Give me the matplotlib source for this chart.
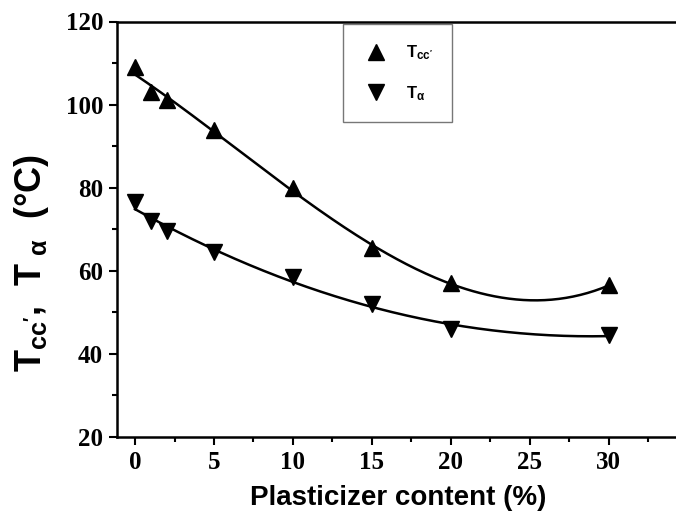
import numpy as np
import matplotlib
matplotlib.use('Agg')
import matplotlib.pyplot as plt
from matplotlib.ticker import MultipleLocator

plt.rcParams['mathtext.fontset'] = 'custom'
plt.rcParams['mathtext.rm'] = 'Liberation Sans:bold'
plt.rcParams['mathtext.bf'] = 'Liberation Sans:bold'
plt.rcParams['mathtext.it'] = 'Liberation Sans:bold'

# datos
content = [0, 1, 2, 5, 10, 15, 20, 30]
t_cc = [109, 103, 101, 94, 80, 65.5, 57, 56.5]
t_alpha = [76.5, 72, 69.5, 64.5, 58.5, 52, 46, 44.5]

fig = plt.figure(figsize=(6.76, 5.19), dpi=100)
ax = fig.add_axes([117 / 676, 82 / 519, 563 / 676, 415.5 / 519])

# curvas de ajuste polinomico
xs = np.linspace(0, 30, 200)
fit_cc = np.polyfit(content, t_cc, 3)
fit_a = np.polyfit(content, t_alpha, 2)
ax.plot(xs, np.polyval(fit_cc, xs), color='black', lw=1.8)
ax.plot(xs, np.polyval(fit_a, xs), color='black', lw=1.8)

ax.plot(content, t_cc, '^', color='black', ms=11, ls='none', label=r"$\mathbf{T_{cc'}}$")
ax.plot(content, t_alpha, 'v', color='black', ms=11, ls='none', label=r"$\mathbf{T_{\alpha}}$")

ax.set_xlim(-1.14, 34.5)
ax.set_ylim(20, 120)
ax.xaxis.set_major_locator(MultipleLocator(5))
ax.xaxis.set_minor_locator(MultipleLocator(2.5))
ax.yaxis.set_major_locator(MultipleLocator(20))
ax.yaxis.set_minor_locator(MultipleLocator(10))
ax.tick_params(which='major', direction='out', length=6, width=1.5, labelsize=18, pad=4)
ax.tick_params(which='minor', direction='out', length=3.5, width=1.5)
for lab in ax.get_xticklabels() + ax.get_yticklabels():
    lab.set_family('Liberation Serif')
    lab.set_fontweight('bold')
for s in ax.spines.values():
    s.set_linewidth(1.8)
ax.spines['right'].set_visible(False)

ax.set_xlabel('Plasticizer content (%)', fontsize=20, fontweight='bold',
              family='Liberation Sans', labelpad=8)
ax.set_ylabel(r"$\mathbf{T_{cc'}}$,  $\mathbf{T_{\ \alpha}}$  (°C)", fontsize=26,
              fontweight='bold', family='Liberation Sans')
ax.yaxis.set_label_coords(-0.118, 0.42)

leg = ax.legend(loc='upper left', bbox_to_anchor=((343 - 117) / 563, 1.0 - 3 / 415.5),
                borderaxespad=0, fontsize=12, frameon=True, fancybox=False, borderpad=1.15,
                labelspacing=1.3, handletextpad=1.0, handlelength=1.6, markerscale=1.0)
leg.get_frame().set_edgecolor('#555555')
leg.get_frame().set_linewidth(1.0)

fig.savefig('out.png', dpi=100)
